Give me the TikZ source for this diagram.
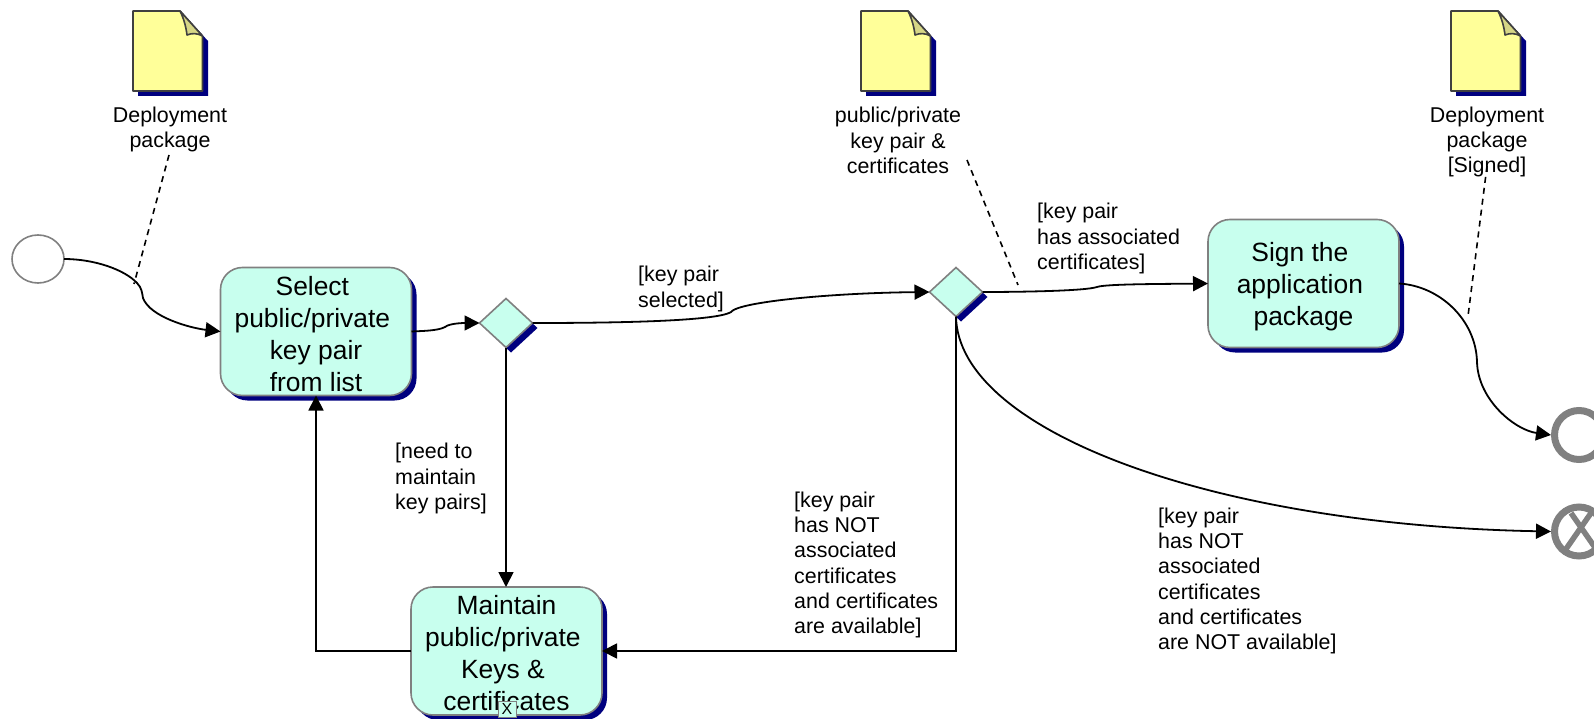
\documentclass[tikz,border=0pt]{standalone}
\usepackage{fontspec}
\setmainfont{Liberation Sans}
\usetikzlibrary{arrows.meta,shapes.geometric,shadows}
\definecolor{taskfill}{HTML}{C8FFEE}
\definecolor{edgegray}{HTML}{808080}
\definecolor{shadenavy}{HTML}{00007F}
\definecolor{docfill}{HTML}{FFFF99}
\definecolor{foldfill}{HTML}{D6D686}
\definecolor{docedge}{HTML}{404040}
\newcommand{\trail}{\kern7.3pt\relax}
\tikzset{
  x=1pt,y=-1pt,
  taskbox/.style={draw=edgegray,line width=1.6pt,fill=taskfill,rounded corners=22pt,
    minimum width=191pt,minimum height=128pt,inner sep=0pt,outer sep=0pt,align=center,
    font=\fontsize{26.4}{32}\selectfont,
    general shadow={shadow xshift=5pt,shadow yshift=-5pt,fill=shadenavy}},
  tasktext/.style={align=center,inner sep=0pt,font=\fontsize{26.4}{32}\selectfont},
  gate/.style={diamond,draw=edgegray,line width=1.6pt,fill=taskfill,minimum width=53pt,
    minimum height=49pt,inner sep=0pt,outer sep=0pt,
    general shadow={shadow xshift=5pt,shadow yshift=-5pt,fill=shadenavy}},
  startev/.style={ellipse,draw=edgegray,line width=1.6pt,fill=white,minimum width=52pt,
    minimum height=48pt,inner sep=0pt,outer sep=0pt},
  endev/.style={circle,draw=edgegray,line width=7pt,fill=white,minimum size=49pt,
    inner sep=0pt,outer sep=3.5pt},
  lbl/.style={align=left,anchor=west,inner sep=0pt,font=\fontsize{21.4}{25.3}\selectfont},
  doclbl/.style={align=center,inner sep=0pt,font=\fontsize{21.4}{25.3}\selectfont},
  flow/.style={draw=black,line width=1.8pt,-{Triangle[length=15pt,width=15pt]}},
  assoc/.style={draw=black,line width=1.6pt,dash pattern=on 6pt off 5pt},
  docsheet/.style={draw=docedge,line width=1.6pt,fill=docfill,line join=round},
  docfold/.style={draw=docedge,line width=1.6pt,fill=foldfill,line join=round},
  docshade/.style={fill=shadenavy,draw=none},
  pics/document/.style={code={
    \fill[docshade] (5,5) -- (52,5) -- (75,30) -- (75,85) -- (5,85) -- cycle;
    \path[docsheet] (0,0) -- (47,0) -- (69.5,25) -- (69.5,80) -- (0,80) -- cycle;
    \path[docfold] (47,0) .. controls (51,8) and (53,16) .. (54,24)
       .. controls (59,22) and (64,22) .. (69.5,25) -- cycle;
  }}
}
\begin{document}
\begin{tikzpicture}
\clip (0,0) rectangle (1594,719);
\fill[white] (0,0) rectangle (1594,719);

% documents
\pic at (133,11) {document};
\pic at (861,11) {document};
\pic at (1451,11) {document};

% events
\node[startev] (start) at (38,259) {};
\node[endev] (endok) at (1579,435) {};
\node[endev] (endx) at (1579,531.5) {};
\draw[edgegray,line width=5.5pt] (1566,549) -- (1591,513) (1571,513) -- (1596,549);

% tasks
\node[taskbox] (select) at (316,331.5) {};
\node[taskbox] (sign) at (1303.5,283.5) {};
\node[taskbox] (maintain) at (506.5,651) {};
\node[tasktext] (selectt) at (316,334) {Select\trail\\public/private\trail\\key pair\\from list};
\node[tasktext] (signt) at (1303.5,286.5) {Sign the\trail\\application\trail\\package};
\node[tasktext] (maintaint) at (506.5,653) {Maintain\\public/private\trail\\Keys \&\trail\\certificates};
\node[draw=edgegray,line width=1pt,fill=taskfill,minimum width=18pt,minimum height=16pt,
  inner sep=0pt,font=\fontsize{16}{16}\selectfont] (sub) at (507,709) {X};

% gateways
\node[gate] (g1) at (506,323) {};
\node[gate] (g2) at (956,292) {};

% labels
\node[doclbl] (d1) at (170,129.5) {Deployment\\package};
\node[doclbl] (d2) at (898,140.5) {public/private\\key pair \&\\certificates};
\node[doclbl] (d3) at (1487,142) {Deployment\\package\\{[Signed]}};
\node[lbl] (l1) at (638,289) {[key pair\\selected]};
\node[lbl] (l2) at (1037,238.5) {[key pair\\has associated\\certificates]};
\node[lbl] (l3) at (395,478.5) {[need to\\maintain\\key pairs]};
\node[lbl] (l4) at (794,565) {[key pair\\has NOT\\associated\\certificates\\and certificates\\are available]};
\node[lbl] (l5) at (1158,581) {[key pair\\has NOT\\associated\\certificates\\and certificates\\are NOT available]};

% free ends of associations
\coordinate (a1s) at (169,155);
\coordinate (a1e) at (134,284);
\coordinate (a2s) at (967,160);
\coordinate (a2e) at (1018,285);
\coordinate (a3s) at (1487,166);
\coordinate (a3e) at (1468,316);
\draw[assoc] (a1s) -- (a1e);
\draw[assoc] (a2s) -- (a2e);
\draw[assoc] (a3s) -- (a3e);

% flows
\path[flow] (start.east) .. controls (95,259) and (125,270) .. (137,283)
  .. controls (142,288) and (142,293) .. (143,298)
  .. controls (150,317) and (190,328) .. (select.west);
\path[flow] (select.east) .. controls (420,331) and (438,331) .. (445,327)
  .. controls (450,323) and (465,323) .. (g1.west);
\path[flow] (g1.east) .. controls (600,323) and (715,322) .. (731,312)
  .. controls (738,302) and (830,293) .. (g2.west);
\path[flow] (g1.south) -- (maintain.north -| g1.south);
\path[flow] (maintain.west) -| (select.south);
\path[flow] (g2.south) |- (maintain.east);
\path[flow] (g2.east) .. controls (1020,292) and (1085,291) .. (1097,287)
  .. controls (1105,284) and (1160,284) .. (sign.west);
\path[flow] (sign.east) .. controls (1440,286) and (1476,320) .. (1477,362)
  .. controls (1478,400) and (1515,430) .. (endok.west);
\path[flow] (g2.south) .. controls (958,430) and (1210,525) .. (endx.west);
\end{tikzpicture}
\end{document}
